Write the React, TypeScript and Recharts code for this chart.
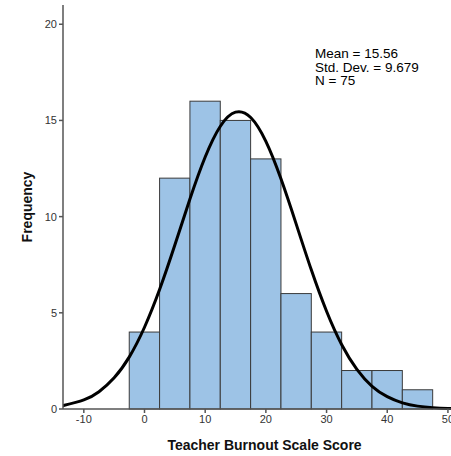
import React from 'react';
import {
  Bar,
  ComposedChart,
  Label,
  Line,
  XAxis,
  YAxis,
} from 'recharts';

// histogram bins (centres, width 5) and counts
const binCenters = [0, 5, 10, 15, 20, 25, 30, 35, 40, 45];
const binCounts = [4, 12, 16, 15, 13, 6, 4, 2, 2, 1];
const binWidth = 5;

// fitted normal curve
const curveX = [
  -13.5, -10, -7.5, -5, -2.5, 0, 2.5, 5, 7.5, 10, 12.5, 15, 17.5, 20, 22.5,
  25, 27.5, 30, 32.5, 35, 37.5, 40, 42.5, 45, 47.5, 50, 52.5,
];
const curveY = [
  0.17, 0.47, 0.9, 1.62, 2.71, 4.25, 6.22, 8.52, 10.93, 13.1, 14.7, 15.43,
  15.15, 13.91, 11.95, 9.61, 7.22, 5.08, 3.34, 2.06, 1.18, 0.64, 0.32, 0.15,
  0.07, 0.03, 0.01,
];

const xTicks = [-10, 0, 10, 20, 30, 40, 50];
const yTicks = [0, 5, 10, 15, 20];

const statLines = ['Mean = 15.56', 'Std. Dev. = 9.679', 'N = 75'];

const histData = binCenters.map((x, i) => ({ x, count: binCounts[i] }));
const curveData = curveX.map((x, i) => ({ x, density: curveY[i] }));

const FONT = '"Liberation Sans", Arial, sans-serif';
const AXIS = '#555555';

const CHART_W = 460;
const MARGIN = { top: 5, right: 6, left: 0, bottom: 0 };
const Y_AXIS_W = 63;
const X_DOMAIN: [number, number] = [-13.43, 51];

// one bin spans binWidth units of the x scale
const plotW = CHART_W - MARGIN.left - MARGIN.right - Y_AXIS_W;
const binPx = (plotW / (X_DOMAIN[1] - X_DOMAIN[0])) * binWidth;

// recharts centres the bar on the bin's x; widen it to the full bin
const BinShape = (props: any) => {
  const { x, y, width, height } = props;
  if (!height) return null;
  const cx = x + width / 2;
  return (
    <rect
      x={cx - binPx / 2}
      y={y}
      width={binPx}
      height={height}
      fill="#9DC3E6"
      stroke="#3a3a3a"
      strokeWidth={1}
    />
  );
};

const App: React.FC = () => {
  return (
    <div
      style={{
        position: 'absolute',
        left: 0,
        top: 0,
        width: 451,
        height: 456,
        overflow: 'hidden',
        background: '#fff',
        fontFamily: FONT,
      }}
    >
      <ComposedChart
        width={CHART_W}
        height={456}
        data={histData}
        margin={MARGIN}
        barCategoryGap={0}
        barGap={0}
      >
        <XAxis
          dataKey="x"
          type="number"
          domain={X_DOMAIN}
          ticks={xTicks}
          allowDataOverflow
          height={47}
          stroke={AXIS}
          strokeWidth={1.5}
          tickSize={4}
          tick={{ fill: '#333', fontSize: 11, fontFamily: FONT }}
        >
          <Label
            value="Teacher Burnout Scale Score"
            position="insideBottom"
            offset={6}
            dx={6}
            style={{ fill: '#111', fontSize: 14, fontWeight: 700, fontFamily: FONT }}
          />
        </XAxis>
        <XAxis
          xAxisId="top"
          orientation="top"
          type="number"
          domain={X_DOMAIN}
          height={0}
          tick={false}
          tickLine={false}
          stroke={AXIS}
          strokeWidth={1.5}
        />
        <YAxis
          type="number"
          domain={[0, 21]}
          ticks={yTicks}
          width={Y_AXIS_W}
          stroke={AXIS}
          strokeWidth={1.5}
          tickSize={4}
          tick={{ fill: '#333', fontSize: 11, fontFamily: FONT }}
        >
          <Label
            value="Frequency"
            angle={-90}
            position="insideLeft"
            offset={27}
            style={{
              fill: '#111',
              fontSize: 14,
              fontWeight: 700,
              fontFamily: FONT,
              textAnchor: 'middle',
            }}
          />
        </YAxis>
        <Bar
          dataKey="count"
          shape={BinShape}
          isAnimationActive={false}
        />
        <Line
          data={curveData}
          dataKey="density"
          type="natural"
          stroke="#000"
          strokeWidth={3}
          dot={false}
          activeDot={false}
          isAnimationActive={false}
        />
      </ComposedChart>
      <div
        style={{
          position: 'absolute',
          left: 315,
          top: 47,
          fontSize: 13.5,
          lineHeight: '13.5px',
          color: '#000',
        }}
      >
        {statLines.map((s) => (
          <div key={s}>{s}</div>
        ))}
      </div>
    </div>
  );
};

export default App;
